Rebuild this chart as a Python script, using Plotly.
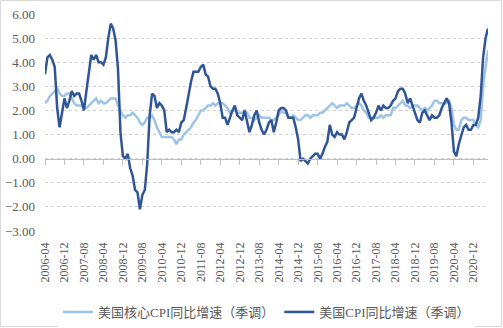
import pandas as pd
import plotly.graph_objects as go

months = [d.strftime("%Y-%m") for d in pd.date_range("2006-04-01", "2021-06-01", freq="MS")]

core_cpi = [
    2.3, 2.4, 2.6, 2.7, 2.8, 2.9, 2.7, 2.6, 2.6,
    2.7, 2.7, 2.5, 2.3, 2.2, 2.2, 2.2, 2.1, 2.1, 2.2, 2.3, 2.4,
    2.5, 2.3, 2.4, 2.3, 2.3, 2.4, 2.5, 2.5, 2.5, 2.2, 2.0, 1.8,
    1.7, 1.8, 1.8, 1.9, 1.8, 1.7, 1.5, 1.4, 1.5, 1.7, 1.7, 1.8,
    1.6, 1.3, 1.1, 0.9, 0.9, 0.9, 0.9, 0.9, 0.8, 0.6, 0.8, 0.8,
    1.0, 1.1, 1.2, 1.3, 1.5, 1.6, 1.8, 2.0, 2.0, 2.1, 2.2, 2.2,
    2.3, 2.2, 2.3, 2.3, 2.3, 2.2, 2.1, 1.9, 2.0, 2.0, 1.9, 1.9,
    1.9, 2.0, 1.9, 1.7, 1.7, 1.6, 1.7, 1.8, 1.7, 1.7, 1.7, 1.7,
    1.6, 1.6, 1.7, 1.8, 2.0, 1.9, 1.9, 1.7, 1.7, 1.8, 1.7, 1.6,
    1.6, 1.7, 1.8, 1.8, 1.7, 1.8, 1.8, 1.8, 1.9, 1.9, 2.0, 2.1,
    2.2, 2.3, 2.2, 2.1, 2.2, 2.2, 2.2, 2.3, 2.2, 2.1, 2.1, 2.2,
    2.3, 2.2, 2.0, 1.9, 1.7, 1.7, 1.7, 1.7, 1.7, 1.8, 1.7, 1.8,
    1.8, 1.8, 2.1, 2.1, 2.2, 2.3, 2.4, 2.2, 2.2, 2.1, 2.2, 2.2,
    2.2, 2.1, 2.0, 2.1, 2.0, 2.1, 2.2, 2.4, 2.4, 2.3, 2.3, 2.3,
    2.3, 2.4, 2.1, 1.4, 1.2, 1.2, 1.6, 1.7, 1.7, 1.6, 1.6, 1.6,
    1.4, 1.3, 1.6, 3.0, 3.8, 4.5,
]

cpi = [
    3.5, 4.2, 4.3, 4.1, 3.8, 2.1, 1.3, 2.0, 2.5,
    2.1, 2.4, 2.8, 2.6, 2.7, 2.7, 2.4, 2.0, 2.8, 3.5, 4.3, 4.1,
    4.3, 4.0, 4.0, 3.9, 4.2, 5.0, 5.6, 5.4, 4.9, 3.7, 1.1, 0.1,
    0.0, 0.2, -0.4, -0.7, -1.3, -1.4, -2.1, -1.5, -1.3, -0.2, 1.8, 2.7,
    2.6, 2.1, 2.3, 2.2, 2.0, 1.1, 1.2, 1.1, 1.1, 1.2, 1.1, 1.5,
    1.6, 2.1, 2.7, 3.2, 3.6, 3.6, 3.6, 3.8, 3.9, 3.5, 3.4, 3.0,
    2.9, 2.9, 2.7, 2.3, 1.7, 1.7, 1.4, 1.7, 2.0, 2.2, 1.8, 1.7,
    1.6, 2.0, 1.5, 1.1, 1.4, 1.8, 2.0, 1.5, 1.2, 1.0, 1.2, 1.5,
    1.6, 1.1, 1.5, 2.0, 2.1, 2.1, 2.0, 1.7, 1.7, 1.7, 1.3, 0.8,
    -0.1, 0.0, -0.1, -0.2, 0.0, 0.1, 0.2, 0.2, 0.0, 0.2, 0.5, 0.7,
    1.4, 1.0, 0.9, 1.1, 1.0, 1.0, 0.8, 1.1, 1.5, 1.6, 1.7, 2.1,
    2.5, 2.7, 2.4, 2.2, 1.9, 1.6, 1.7, 1.9, 2.2, 2.0, 2.2, 2.1,
    2.1, 2.2, 2.4, 2.5, 2.8, 2.9, 2.9, 2.7, 2.3, 2.5, 2.2, 1.9,
    1.6, 1.5, 1.9, 2.0, 1.8, 1.6, 1.8, 1.7, 1.7, 1.8, 2.1, 2.3,
    2.5, 2.3, 1.5, 0.3, 0.1, 0.6, 1.0, 1.3, 1.4, 1.2, 1.2, 1.4,
    1.4, 1.7, 2.6, 4.2, 5.0, 5.4,
]

tick_labels = months[::8]
y_ticks = [-3, -2, -1, 0, 1, 2, 3, 4, 5, 6]

W, H = 503, 328
ML, MR, MT, MB = 45, 15, 14, 97
pw, ph = W - ML - MR, H - MT - MB

fig = go.Figure()
fig.add_trace(go.Scatter(x=months, y=core_cpi, mode="lines", name="美国核心CPI同比增速（季调）",
                         line=dict(color="#9DC3E6", width=2.5)))
fig.add_trace(go.Scatter(x=months, y=cpi, mode="lines", name="美国CPI同比增速（季调）",
                         line=dict(color="#2F5597", width=2.5)))
# helper trace for the zero-line axis with tick marks
fig.add_trace(go.Scatter(x=months, y=[None] * len(months), xaxis="x2", yaxis="y",
                         showlegend=False, hoverinfo="skip", mode="lines"))

font_serif = "Liberation Serif, Times New Roman, Noto Sans CJK SC, serif"
fig.update_layout(
    width=W, height=H,
    margin=dict(l=ML, r=MR, t=MT, b=MB, autoexpand=False),
    paper_bgcolor="white", plot_bgcolor="white",
    font=dict(family=font_serif, color="#595959", size=12),
    xaxis=dict(type="category", range=[0, len(months) - 1], tickmode="array",
               tickvals=tick_labels, ticktext=tick_labels, tickangle=-90,
               showgrid=False, showline=False, ticks="", zeroline=False,
               automargin=False, ticklabelstandoff=8,
               tickfont=dict(size=12, family=font_serif, color="#595959")),
    xaxis2=dict(type="category", overlaying="x", matches="x", anchor="free",
                position=(0 - (-3)) / (6 - (-3)), side="bottom",
                tickmode="array", tickvals=tick_labels, showticklabels=False,
                ticks="outside", ticklen=5, tickcolor="#BFBFBF", tickwidth=1,
                showline=True, linecolor="#BFBFBF", linewidth=1, showgrid=False,
                automargin=False),
    yaxis=dict(range=[-3, 6], tickvals=y_ticks, tickformat=".2f",
               showgrid=True, gridcolor="#D0D0D0", griddash="dot", gridwidth=1,
               zeroline=False, showline=False, ticks="", automargin=False,
               ticklabelstandoff=9,
               tickfont=dict(size=13, family=font_serif, color="#595959")),
    legend=dict(orientation="h", x=0.5, xanchor="center", y=-(312 - (MT + ph)) / ph,
                yanchor="middle", font=dict(size=13, color="#595959",
                                            family="Liberation Serif, Noto Sans CJK SC, serif"),
                itemwidth=30, tracegroupgap=0),
    shapes=[dict(type="rect", xref="paper", yref="paper",
                 x0=-(ML - 0.5) / pw, x1=1 + (MR - 1.5) / pw,
                 y0=-(MB - 1.5) / ph, y1=1 + (MT - 0.5) / ph,
                 line=dict(color="#D9D9D9", width=1), layer="below")],
    showlegend=True,
)

fig.write_html("out.html")
